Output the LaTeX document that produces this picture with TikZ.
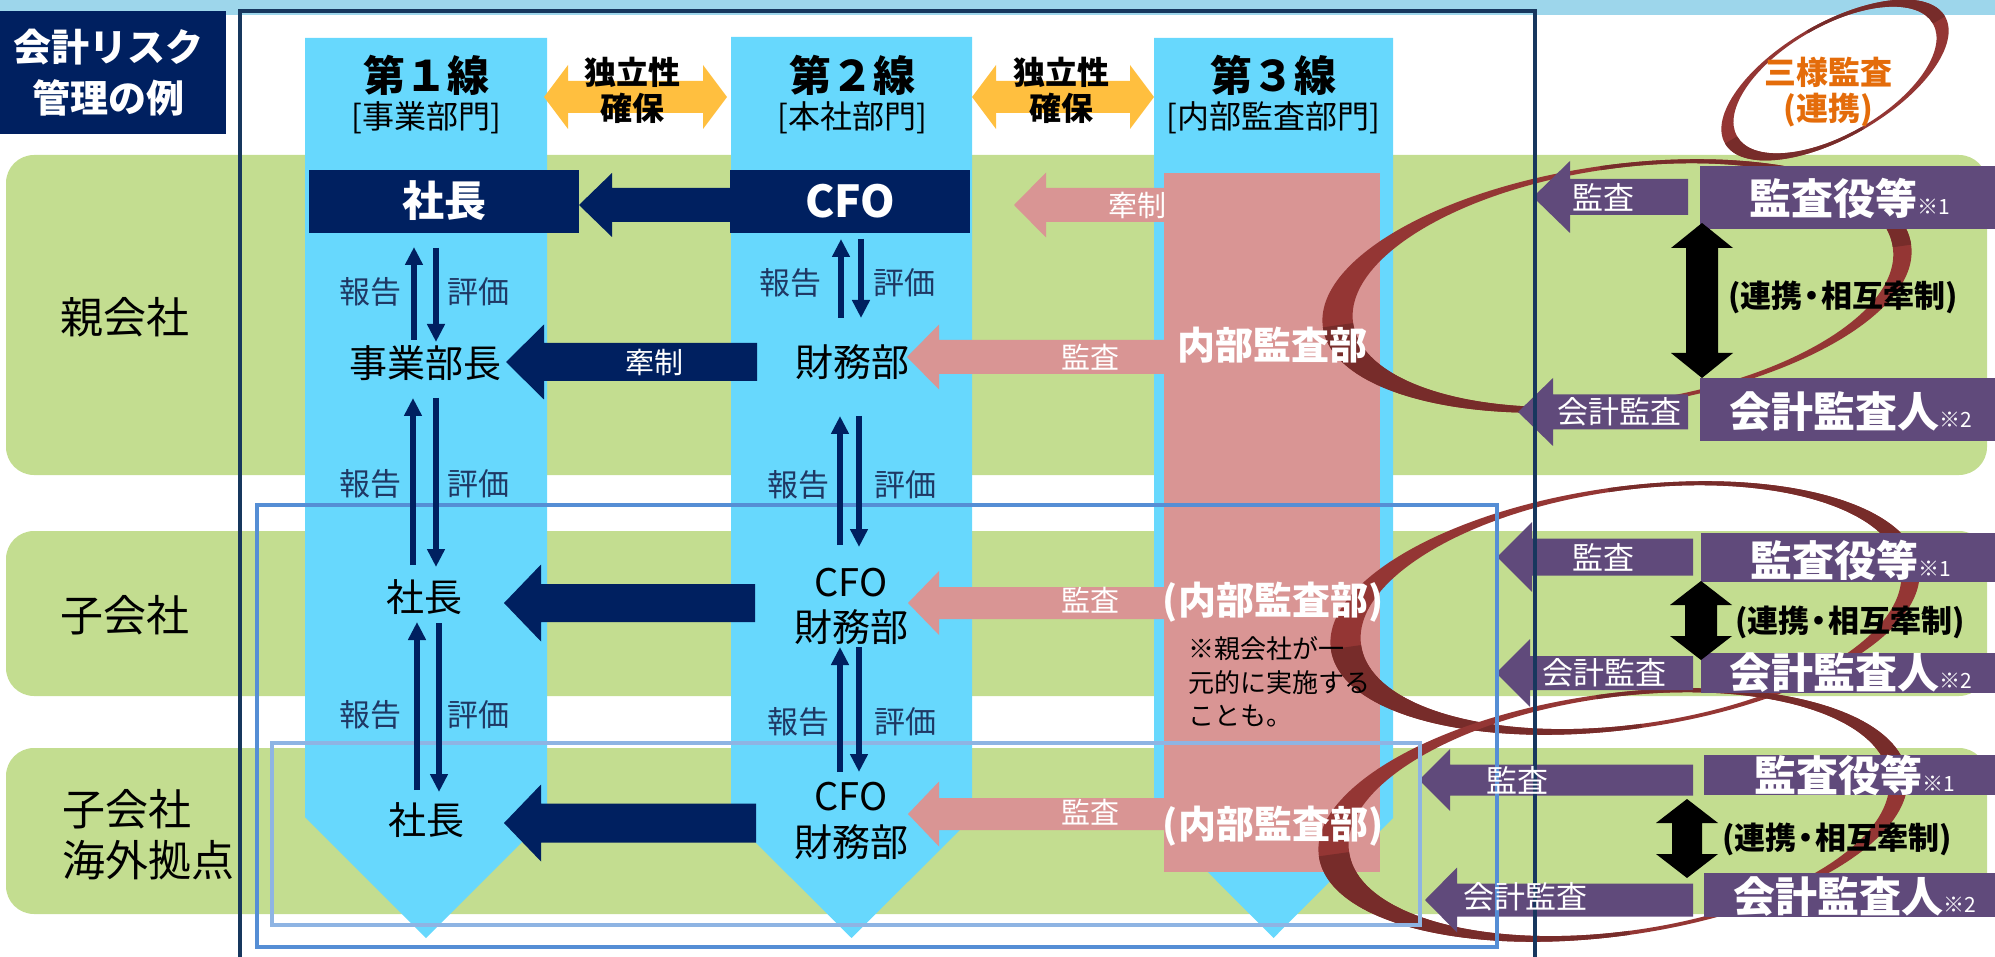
\documentclass[tikz,border=0pt]{standalone}
\usepackage{fontspec}
\setmainfont{Noto Sans CJK JP}
\usetikzlibrary{arrows.meta}
\definecolor{navy}{HTML}{002060}
\definecolor{framec}{HTML}{17375E}
\definecolor{stripc}{HTML}{9DD6EB}
\definecolor{rowgreen}{HTML}{C3DD90}
\definecolor{colcyan}{HTML}{67D8FD}
\definecolor{pinkc}{HTML}{D99594}
\definecolor{purp}{HTML}{604A7B}
\definecolor{ringc}{HTML}{943634}
\definecolor{ringd}{HTML}{772C2A}
\definecolor{yell}{HTML}{FFBF3F}
\definecolor{blueA}{HTML}{558ED5}
\definecolor{blueB}{HTML}{8EB4E3}
\definecolor{orng}{HTML}{E46C0A}
\definecolor{lblc}{HTML}{1F3864}
\newcommand\fsz[1]{\fontsize{#1}{#1}\selectfont}
% left block arrow: colour, tipx, cy, basex, headhalf, shafthalf, endx
\newcommand\blockL[7]{\fill[#1] (#2,#3) -- (#4,#3-#5) -- (#4,#3-#6) -- (#7,#3-#6) -- (#7,#3+#6) -- (#4,#3+#6) -- (#4,#3+#5) -- cycle;}
% vertical double arrow: x, top, bottom, headhalf, shafthalf, headlen
\newcommand\blockV[6]{\fill[black] (#1,#2) -- (#1+#4,#2+#6) -- (#1+#5,#2+#6) -- (#1+#5,#3-#6) -- (#1+#4,#3-#6) -- (#1,#3) -- (#1-#4,#3-#6) -- (#1-#5,#3-#6) -- (#1-#5,#2+#6) -- (#1-#4,#2+#6) -- cycle;}
% horizontal double arrow: colour, lefttip, righttip, cy, headhalf, shafthalf, headlen
\newcommand\blockH[7]{\fill[#1] (#2,#4) -- (#2+#7,#4-#5) -- (#2+#7,#4-#6) -- (#3-#7,#4-#6) -- (#3-#7,#4-#5) -- (#3,#4) -- (#3-#7,#4+#5) -- (#3-#7,#4+#6) -- (#2+#7,#4+#6) -- (#2+#7,#4+#5) -- cycle;}
% ring: cx, cy, rot, aout, bout, shift, ain, bin
\newcommand\ringshape[8]{%
 \begin{scope}[shift={(#1,#2)},rotate=#3]
  \fill[ringc,even odd rule] (0pt,0pt) ellipse [x radius=#4pt,y radius=#5pt] (#6pt,0pt) ellipse [x radius=#7pt,y radius=#8pt];
  \begin{scope}
   \clip (-420pt,-320pt) rectangle (0pt,0pt) (0pt,0pt) rectangle (420pt,320pt);
   \fill[ringd,even odd rule] (0pt,0pt) ellipse [x radius=#4pt,y radius=#5pt] (#6pt,0pt) ellipse [x radius=#7pt,y radius=#8pt];
  \end{scope}
 \end{scope}}
\begin{document}
\begin{tikzpicture}[x=1pt,y=-1pt,
  every node/.style={inner sep=0pt,outer sep=0pt,align=center},
  hdr/.style={font=\bfseries\fsz{42}},
  subhdr/.style={font=\fsz{32}},
  ytxt/.style={font=\bfseries\fsz{32}},
  big/.style={font=\fsz{38}},
  rl/.style={text=lblc,font=\fsz{31}},
  wlab/.style={text=white,font=\fsz{29}},
  plab/.style={text=white,font=\fsz{31}},
  ren/.style={font=\bfseries\fsz{31}},
  rowlab/.style={font=\fsz{43}},
  varrow/.style={draw=navy,line width=6pt,-{Triangle[width=17pt,length=18pt]}}]
\useasboundingbox (0,0) rectangle (1995,957);
% top strip
\fill[stripc] (0,0) rectangle (1995,15);
% green rows
\fill[rowgreen,rounded corners=28pt] (6,155) rectangle (1987,475);
\fill[rowgreen,rounded corners=28pt] (6,531) rectangle (1987,696);
\fill[rowgreen,rounded corners=28pt] (6,748) rectangle (1987,914);
% title box
\fill[navy] (0,11) rectangle (226,134);
% columns
\fill[colcyan] (305,38) -- (547,38) -- (547,817) -- (426,938) -- (305,817) -- cycle;
\fill[colcyan] (731,37) -- (972,37) -- (972,818) -- (851.5,938) -- (731,818) -- cycle;
\fill[colcyan] (1154,38) -- (1393,38) -- (1393,818) -- (1273.5,938) -- (1154,818) -- cycle;
% yellow arrows
\blockH{yell}{544}{727}{97}{32}{16}{24}
\blockH{yell}{972}{1154}{97}{32}{16}{24}
% pink internal audit block
\fill[pinkc] (1164,173) rectangle (1380,872);
% rings
\ringshape{1835}{80}{30}{127}{57}{0}{113}{54}
\ringshape{1617}{286}{8}{297}{121}{6}{272.5}{117}
\ringshape{1625}{608}{8}{297}{121}{6}{272.5}{117}
\ringshape{1613}{815}{8}{297}{121}{6}{272.5}{117}
% navy boxes
\fill[navy] (309,170) rectangle (579,233);
\fill[navy] (730,170) rectangle (970,233);
% navy arrows
\blockL{navy}{579}{205}{612}{32}{17}{730}
\blockL{navy}{506}{362}{544}{37.5}{19}{757}
\blockL{navy}{504}{603}{541}{38.5}{19}{755}
\blockL{navy}{504}{823}{541}{38.5}{19.5}{756}
% pink arrows
\blockL{pinkc}{1014}{205}{1046}{32.5}{17}{1164}
\blockL{pinkc}{907}{357}{939}{32.5}{17}{1164}
\blockL{pinkc}{908}{603}{939}{32}{16}{1164}
\blockL{pinkc}{908}{814}{939}{32.5}{16}{1164}
% purple arrows
\blockL{purp}{1533}{197}{1570}{36}{18}{1688}
\blockL{purp}{1518}{412}{1553}{34}{17.5}{1688}
\blockL{purp}{1497}{557}{1532}{35}{18.5}{1693}
\blockL{purp}{1496}{673}{1530}{34}{17}{1693}
\blockL{purp}{1419}{780}{1450}{31}{15.5}{1693}
\blockL{purp}{1425}{900}{1457}{32.5}{16.5}{1693}
% purple boxes
\fill[purp] (1700,166) rectangle (1995,229);
\fill[purp] (1700,378) rectangle (1995,441);
\fill[purp] (1701,533) rectangle (1995,582);
\fill[purp] (1701,653) rectangle (1995,693);
\fill[purp] (1704,755) rectangle (1995,795);
\fill[purp] (1704,873) rectangle (1995,917);
% black double arrows
\blockV{1702}{223}{378}{31}{16}{25}
\blockV{1701}{581}{660}{31}{16}{24}
\blockV{1687}{799}{878}{31}{15}{24}
% frames
\draw[framec,line width=3.5pt] (240,960) -- (240,11) -- (1535,11) -- (1535,960);
\draw[blueA,line width=3.5pt] (257,505) rectangle (1497,947);
\draw[blueB,line width=3.5pt] (272,743) rectangle (1420,925);
% report / evaluate arrows
\draw[varrow] (414,340) -- (414,247);
\draw[varrow] (436,248) -- (436,342);
\draw[varrow] (413,565) -- (413,398);
\draw[varrow] (436,398) -- (436,567);
\draw[varrow] (417,790) -- (417,622);
\draw[varrow] (439,623) -- (439,792);
\draw[varrow] (841,318) -- (841,239);
\draw[varrow] (861,239) -- (861,318);
\draw[varrow] (840,545) -- (840,416);
\draw[varrow] (859,416) -- (859,547);
\draw[varrow] (840,772) -- (840,647);
\draw[varrow] (859,647) -- (859,772);
% ---------- texts ----------
\node[text=white,font=\bfseries\fsz{38}] (t1) at (108,47) {会計リスク};
\node[text=white,font=\bfseries\fsz{38}] (t2) at (108,98) {管理の例};
\node[rowlab] (r1) at (125,317) {親会社};
\node[rowlab] (r2) at (125,615) {子会社};
\node[rowlab,anchor=west,align=left,font=\fontsize{43}{51}\selectfont] (r3) at (62,835) {子会社\\海外拠点};
\node[hdr] (h1) at (426,75) {第１線};
\node[subhdr] (s1) at (426,118) {[事業部門]};
\node[hdr] (h2) at (852,75) {第２線};
\node[subhdr] (s2) at (852,118) {[本社部門]};
\node[hdr] (h3) at (1273,75) {第３線};
\node[subhdr] (s3) at (1273,118) {[内部監査部門]};
\node[ytxt] (y1a) at (632,72) {独立性};
\node[ytxt] (y1b) at (632,108) {確保};
\node[ytxt] (y2a) at (1061,72) {独立性};
\node[ytxt] (y2b) at (1061,108) {確保};
\node[text=white,font=\bfseries\fsz{42}] (ceo) at (444,201) {社長};
\node[text=white,font=\bfseries\fsz{44}] (cfo) at (850,201) {CFO};
\node[big] (jb) at (425,363) {事業部長};
\node[big] (zm) at (852,362) {財務部};
\node[big] (ceo2) at (424,597) {社長};
\node[big] (ceo3) at (426,820) {社長};
\node[big] (cfo2) at (851,583) {CFO};
\node[big] (zm2) at (851,627) {財務部};
\node[big] (cfo3) at (851,797) {CFO};
\node[big] (zm3) at (851,842) {財務部};
\node[rl] (rp1) at (370,292) {報告}; \node[rl] (ev1) at (478,292) {評価};
\node[rl] (rp2) at (370,484) {報告}; \node[rl] (ev2) at (478,484) {評価};
\node[rl] (rp3) at (370,715) {報告}; \node[rl] (ev3) at (478,715) {評価};
\node[rl] (rp4) at (790,283) {報告}; \node[rl] (ev4) at (904,283) {評価};
\node[rl] (rp5) at (798,485) {報告}; \node[rl] (ev5) at (905,485) {評価};
\node[rl] (rp6) at (798,722) {報告}; \node[rl] (ev6) at (905,722) {評価};
\node[wlab] (kn1) at (654,362) {牽制};
\node[wlab] (kn2) at (1137,205) {牽制};
\node[wlab] (ka1) at (1090,357) {監査};
\node[wlab] (ka2) at (1090,600) {監査};
\node[wlab] (ka3) at (1090,812) {監査};
\node[text=white,font=\bfseries\fsz{38}] (ia1) at (1272,345) {内部監査部};
\node[text=white,font=\bfseries\fsz{38}] (ia2) at (1273,602) {(内部監査部)};
\node[text=white,font=\bfseries\fsz{38}] (ia3) at (1273,826) {(内部監査部)};
\node[anchor=west,align=left,font=\fontsize{26}{33.5}\selectfont] (note) at (1188,682) {※親会社が一\\元的に実施する\\ことも。};
\node[text=orng,font=\bfseries\fsz{32}] (sy1) at (1828,72) {三様監査};
\node[text=orng,font=\bfseries\fsz{32}] (sy2) at (1828,110) {(連携)};
\node[plab] (pa1) at (1603,197) {監査};
\node[plab] (pa2) at (1619,412) {会計監査};
\node[plab] (pa3) at (1603,557) {監査};
\node[plab] (pa4) at (1604,673) {会計監査};
\node[plab] (pa5) at (1517,780) {監査};
\node[plab] (pa6) at (1525,897) {会計監査};
\node[text=white] (kb1) at (1850,198) {{\bfseries\fsz{42}監査役等}{\fsz{21}※1}};
\node[text=white] (ka1b) at (1851,412) {{\bfseries\fsz{42}会計監査人}{\fsz{21}※2}};
\node[text=white] (kb2) at (1851,560) {{\bfseries\fsz{42}監査役等}{\fsz{21}※1}};
\node[text=white] (ka2b) at (1851,673) {{\bfseries\fsz{42}会計監査人}{\fsz{21}※2}};
\node[text=white] (kb3) at (1855,775) {{\bfseries\fsz{42}監査役等}{\fsz{21}※1}};
\node[text=white] (ka3b) at (1855,897) {{\bfseries\fsz{42}会計監査人}{\fsz{21}※2}};
\node[ren] (rn1) at (1843,297) {(連携{\kern-.2em}・{\kern-.2em}相互牽制)};
\node[ren] (rn2) at (1850,622) {(連携{\kern-.2em}・{\kern-.2em}相互牽制)};
\node[ren] (rn3) at (1837,839) {(連携{\kern-.2em}・{\kern-.2em}相互牽制)};
\end{tikzpicture}
\end{document}
